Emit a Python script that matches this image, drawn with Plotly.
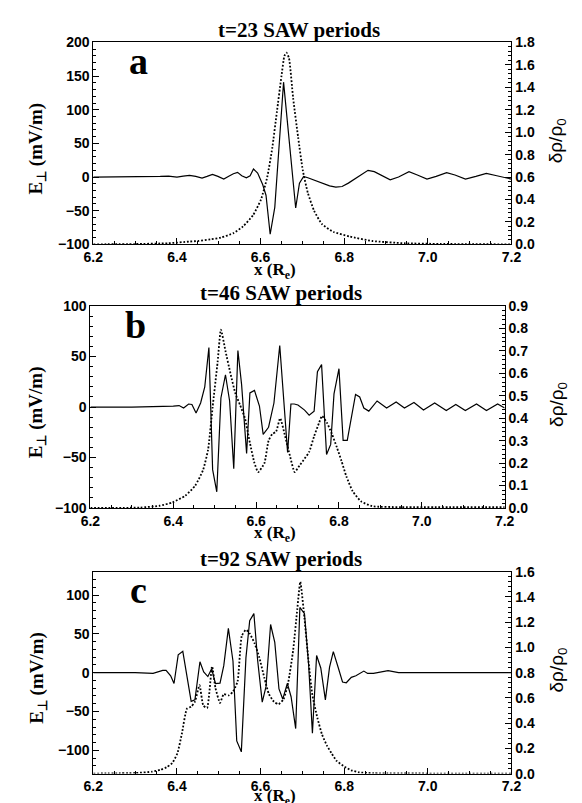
import plotly.graph_objects as go

# ---- panel a: t=23 SAW periods ----
xa_e = [6.20, 6.25, 6.30, 6.33, 6.36, 6.38, 6.40, 6.415, 6.43, 6.445, 6.46, 6.472, 6.485, 6.498,
        6.512, 6.525, 6.535, 6.545, 6.555, 6.566, 6.575, 6.583, 6.593, 6.605, 6.613, 6.623, 6.634,
        6.655, 6.684, 6.693, 6.703, 6.713, 6.73, 6.75, 6.765, 6.78, 6.795, 6.81, 6.825, 6.84, 6.857,
        6.872, 6.89, 6.91, 6.93, 6.955, 6.975, 6.998, 7.02, 7.045, 7.065, 7.09, 7.115, 7.14, 7.165,
        7.185, 7.20]
ea = [0, 0, 0.5, 0, 1, 1.5, 0, 1.5, 2.5, 1, -1.5, 1, 4, 1, -3, 1.5, 5, 7, 2, -1, 2, 12, 6, -11,
      -27, -85, -45, 141, -46, -9, 1, -1, -5, -10, -13, -15, -14, -9, -3, 4, 10, 8, 2, -4, 0, 8, 3,
      -3, 1, 6.5, 3, -3, 1, 5.5, 2, -1, -3]
xa_d = [6.20, 6.30, 6.38, 6.43, 6.45, 6.48, 6.505, 6.535, 6.558, 6.582, 6.601, 6.616, 6.628, 6.639,
        6.650, 6.657, 6.662, 6.668, 6.678, 6.690, 6.701, 6.713, 6.728, 6.747, 6.775, 6.813, 6.867,
        6.944, 7.03, 7.20]
da = [0, 0.003, 0.01, 0.025, 0.03, 0.045, 0.06, 0.10, 0.16, 0.26, 0.40, 0.60, 0.86, 1.18, 1.50,
      1.68, 1.71, 1.66, 1.30, 0.95, 0.66, 0.46, 0.30, 0.18, 0.11, 0.07, 0.03, 0.01, 0.004, 0]

# ---- panel b: t=46 SAW periods ----
xb_e = [6.20, 6.30, 6.40, 6.414, 6.425, 6.437, 6.445, 6.455, 6.466, 6.476, 6.486, 6.495, 6.505,
        6.515, 6.526, 6.536, 6.546, 6.556, 6.565, 6.577, 6.585, 6.596, 6.608, 6.617, 6.630, 6.643,
        6.657, 6.676, 6.684, 6.692, 6.701, 6.717, 6.728, 6.740, 6.748, 6.758, 6.770, 6.780, 6.788,
        6.800, 6.810, 6.820, 6.840, 6.850, 6.860, 6.872, 6.892, 6.915, 6.938, 6.958, 6.981, 7.004,
        7.031, 7.059, 7.082, 7.105, 7.132, 7.156, 7.183, 7.20]
eb = [0, 0, 1, 1.5, -1, 3, 2.5, -6, 4, 20, 59, -62, -84, 9, 32, 6, -61, 56, 22, -46, 14, 16.5, 1,
      -27, -20, 4, 61, -45, 3, 3, 2, -3, -8, -4, 35, 42, -47, -37, 13, 38, -33, -33, 12.5, 10, -1,
      -4, 6, -1, 5, -1, 4.5, -3, 4, -3.5, 2.5, -3.5, 3, -3.5, 3, -1]
xb_d = [6.20, 6.32, 6.367, 6.398, 6.429, 6.453, 6.472, 6.484, 6.495, 6.507, 6.515, 6.526, 6.538,
        6.550, 6.561, 6.573, 6.585, 6.596, 6.605, 6.620, 6.630, 6.639, 6.648, 6.658, 6.670, 6.682,
        6.693, 6.705, 6.717, 6.728, 6.740, 6.752, 6.759, 6.771, 6.783, 6.795, 6.806, 6.818, 6.833,
        6.853, 6.880, 6.95, 7.20]
db = [0, 0.002, 0.01, 0.025, 0.055, 0.10, 0.17, 0.26, 0.45, 0.65, 0.795, 0.70, 0.60, 0.51, 0.46,
      0.40, 0.29, 0.20, 0.16, 0.20, 0.30, 0.33, 0.34, 0.40, 0.32, 0.23, 0.16, 0.19, 0.22, 0.25,
      0.32, 0.38, 0.41, 0.38, 0.33, 0.27, 0.21, 0.14, 0.075, 0.03, 0.008, 0.004, 0.004]

# ---- panel c: t=92 SAW periods ----
xc_e = [6.20, 6.30, 6.343, 6.366, 6.374, 6.385, 6.393, 6.403, 6.414, 6.434, 6.443, 6.455, 6.464,
        6.474, 6.483, 6.492, 6.503, 6.512, 6.523, 6.534, 6.543, 6.554, 6.565, 6.574, 6.584, 6.593,
        6.604, 6.613, 6.624, 6.634, 6.644, 6.653, 6.664, 6.673, 6.684, 6.694, 6.705, 6.715, 6.724,
        6.734, 6.744, 6.755, 6.765, 6.774, 6.786, 6.796, 6.805, 6.817, 6.828, 6.847, 6.856, 6.870,
        6.905, 6.93, 7.0, 7.2]
ec = [0, 0, -1, 3, 3, -4, -14, 23, 27.5, -37, -35, 14, 1, -5, 5, -14, -13.5, 9, 57, 15, -88, -102,
      19, 67, 76, 16, -38, -18, 62, 39, -21, -34, -14, -31, -72, 84, 76, 10, -78, 22, 6, -35, 7, 27,
      6, -12, -13, -6, -4, 2, -1, -1, 2.5, 0, 0, 0]
xc_d = [6.20, 6.30, 6.34, 6.36, 6.375, 6.389, 6.401, 6.412, 6.424, 6.434, 6.443, 6.454, 6.463,
        6.472, 6.484, 6.492, 6.503, 6.512, 6.524, 6.534, 6.545, 6.555, 6.565, 6.574, 6.586, 6.597,
        6.609, 6.620, 6.632, 6.643, 6.655, 6.666, 6.678, 6.688, 6.695, 6.705, 6.715, 6.724, 6.736,
        6.747, 6.759, 6.770, 6.782, 6.801, 6.817, 6.836, 6.87, 7.2]
dc = [0, 0.005, 0.015, 0.03, 0.05, 0.085, 0.16, 0.32, 0.515, 0.53, 0.57, 0.70, 0.54, 0.52, 0.85,
      0.68, 0.56, 0.63, 0.62, 0.65, 0.73, 1.09, 1.14, 1.11, 1.03, 0.92, 0.76, 0.63, 0.57, 0.55,
      0.59, 0.72, 0.98, 1.31, 1.52, 1.23, 0.88, 0.62, 0.44, 0.31, 0.22, 0.16, 0.10, 0.055, 0.026,
      0.01, 0.003, 0]

titles = ["t=23 SAW periods", "t=46 SAW periods", "t=92 SAW periods"]
letters = ["a", "b", "c"]
left_ranges = [[-100, 200], [-100, 100], [-130, 130]]
right_ranges = [[0, 1.8], [0, 0.9], [0, 1.6]]
right_dticks = [0.2, 0.1, 0.2]

W, H = 582, 803

# pixel boxes of the three plot areas (left, right, top, bottom)
boxes = [(78, 511, 27, 233), (75, 504, 296, 502), (78, 511, 567, 773)]
title_x = [291, 272, 272]
xtitle_dy = [27, 27, 24]


def px(x):
    return x / W


def py(y):
    return 1 - y / H


tick_font = dict(family="Liberation Sans", size=14, color="black", weight="bold")

fig = go.Figure()
panels = [(xa_e, ea, xa_d, da), (xb_e, eb, xb_d, db), (xc_e, ec, xc_d, dc)]
annotations = []

for i, (xe, e, xd, d) in enumerate(panels):
    assert len(xe) == len(e) and len(xd) == len(d)
    n = i + 1
    xname = "x" if n == 1 else f"x{n}"
    yl = 2 * i + 1
    yr = 2 * i + 2
    ylname = "y" if yl == 1 else f"y{yl}"
    yrname = f"y{yr}"

    fig.add_trace(go.Scatter(x=xe, y=e, mode="lines", xaxis=xname, yaxis=ylname,
                             line=dict(color="black", width=1.2), showlegend=False))
    fig.add_trace(go.Scatter(x=xd, y=d, mode="lines", xaxis=xname, yaxis=yrname,
                             line=dict(color="black", width=1.8, dash="1.8px,1.8px",
                                       shape="spline", smoothing=0.5),
                             showlegend=False))

    l, r, t, b = boxes[i]
    xkey = "xaxis" if n == 1 else f"xaxis{n}"
    ylkey = "yaxis" if yl == 1 else f"yaxis{yl}"
    yrkey = f"yaxis{yr}"
    fig.layout[xkey] = dict(domain=[px(l), px(r)], anchor=ylname, range=[6.2, 7.2],
                            dtick=0.2, tick0=6.2, tickformat=".1f", ticks="inside", ticklen=6,
                            tickcolor="black", showline=True, linecolor="black", linewidth=1,
                            mirror=True, showgrid=False, zeroline=False, tickfont=tick_font,
                            minor=dict(ticks="inside", ticklen=3, dtick=0.05, tickcolor="black"))
    fig.layout[ylkey] = dict(domain=[py(b), py(t)], anchor=xname, range=left_ranges[i],
                             dtick=50, tick0=0, ticks="inside", ticklen=6, tickcolor="black",
                             showline=True, linecolor="black", linewidth=1, showgrid=False,
                             zeroline=False, tickfont=tick_font,
                             minor=dict(ticks="inside", ticklen=3, dtick=10, tickcolor="black"))
    fig.layout[yrkey] = dict(overlaying=ylname, side="right", anchor=xname, range=right_ranges[i],
                             dtick=right_dticks[i], tick0=0, tickformat=".1f", ticks="inside",
                             ticklen=6, tickcolor="black", showline=True, linecolor="black",
                             linewidth=1, showgrid=False, zeroline=False, tickfont=tick_font,
                             minor=dict(ticks="inside", ticklen=3, dtick=right_dticks[i] / 5,
                                        tickcolor="black"))

    cy = (t + b) / 2
    serif_bold = dict(family="Liberation Serif", color="black", weight="bold")
    annotations += [
        dict(text=titles[i], x=px(title_x[i]), y=py(t - 13), xref="paper", yref="paper",
             showarrow=False, xanchor="center", yanchor="middle", font=dict(serif_bold, size=21)),
        dict(text=letters[i], x=px(l + 47), y=py(t + 19), xref="paper", yref="paper",
             showarrow=False, xanchor="center", yanchor="middle", font=dict(serif_bold, size=38)),
        dict(text="x (R<sub>e</sub>)", x=px(266), y=py(b + xtitle_dy[i]), xref="paper",
             yref="paper", showarrow=False, xanchor="center", yanchor="middle",
             font=dict(serif_bold, size=17)),
        dict(text="E<sub>⊥</sub> (mV/m)", x=px(20), y=py(cy + 5), xref="paper", yref="paper",
             showarrow=False, xanchor="center", yanchor="middle", textangle=-90,
             font=dict(serif_bold, size=19)),
        dict(text="δρ/ρ<sub>0</sub>", x=px(559), y=py(cy - 3), xref="paper", yref="paper",
             showarrow=False, xanchor="center", yanchor="middle", textangle=-90,
             font=dict(family="Liberation Sans", size=19, color="black")),
    ]

fig.update_layout(width=W, height=H, margin=dict(l=0, r=0, t=0, b=0),
                  plot_bgcolor="white", paper_bgcolor="white", annotations=annotations,
                  showlegend=False)

fig.write_html("out.html")
